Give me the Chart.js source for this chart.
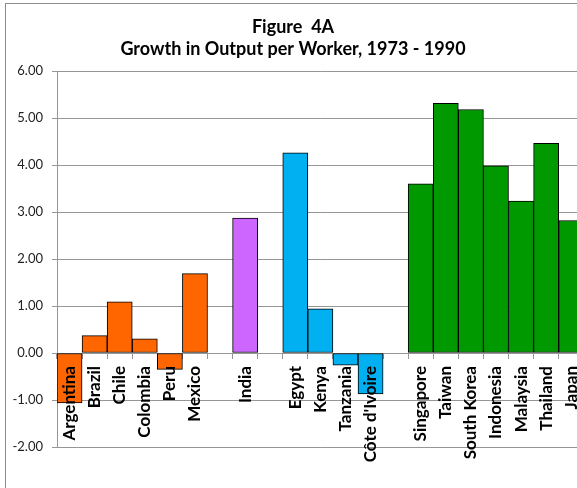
<!DOCTYPE html>
<html>
<head>
<meta charset="utf-8">
<script src="https://cdn.jsdelivr.net/npm/chart.js@4"></script>
<style>
  html, body { margin: 0; padding: 0; background: #fff; overflow: hidden; }
  #frame { position: absolute; left: 5px; top: 3px; width: 640px; height: 520px; border: 1px solid #8c8c8c; }
  #c { position: absolute; left: 0; top: 0; }
</style>
</head>
<body>
<div id="frame"></div>
<canvas id="c" width="600" height="488"></canvas>
<script>
// categories, '' = empty slot between country groups
const countries = ['Argentina','Brazil','Chile','Colombia','Peru','Mexico','',
  'India','',
  'Egypt','Kenya','Tanzania',"Côte d'Ivoire",'',
  'Singapore','Taiwan','South Korea','Indonesia','Malaysia','Thailand','Japan'];

// growth in output per worker, % per year
const growth = [-1.06, 0.37, 1.09, 0.30, -0.35, 1.69, null,
  2.87, null,
  4.26, 0.94, -0.26, -0.87, null,
  3.60, 5.31, 5.18, 3.98, 3.23, 4.46, 2.82];

const groupColor = {latin: '#FF6600', india: '#CC66FF', africa: '#00B0F0', asia: '#009900'};
const groups = ['latin','latin','latin','latin','latin','latin','',
  'india','',
  'africa','africa','africa','africa','',
  'asia','asia','asia','asia','asia','asia','asia'];

const yTicks = [-2, -1, 0, 1, 2, 3, 4, 5, 6];
const titleLines = ['Figure  4A', 'Growth in Output per Worker, 1973 - 1990'];

const gridGray = '#969696';
const font = 'Lato, "Open Sans", sans-serif';

// draws the two title lines, centred like the original
const titlePlugin = {
  id: 'figTitle',
  afterDraw(chart) {
    const ctx = chart.ctx;
    ctx.save();
    ctx.fillStyle = '#000';
    ctx.textAlign = 'center';
    ctx.textBaseline = 'alphabetic';
    ctx.font = 'bold 18px ' + font;
    ctx.fillText(titleLines[0], 293, 33);
    ctx.fillText(titleLines[1], 293, 55);
    ctx.restore();
  }
};

new Chart(document.getElementById('c'), {
  type: 'bar',
  data: {
    labels: countries,
    datasets: [{
      data: growth,
      backgroundColor: groups.map(g => groupColor[g] || 'transparent'),
      borderColor: '#000',
      borderWidth: 1,
      borderSkipped: false,
      barPercentage: 1,
      categoryPercentage: 1
    }]
  },
  options: {
    responsive: false,
    animation: false,
    devicePixelRatio: 1,
    layout: { padding: { left: 0, top: 71, right: 16, bottom: 41 } },
    plugins: { legend: { display: false }, tooltip: { enabled: false }, title: { display: false } },
    scales: {
      x: {
        position: { y: 0 },
        grid: { display: true, drawOnChartArea: false, drawTicks: true, tickLength: 5, color: gridGray, offset: true },
        border: { display: true, color: gridGray },
        ticks: {
          z: 1,
          autoSkip: false, minRotation: 90, maxRotation: 90, padding: 8,
          color: '#000', font: { family: font, size: 17, weight: 'bold' }
        }
      },
      y: {
        min: -2, max: 6,
        afterFit: s => { s.width = 57; },
        afterBuildTicks: s => { s.ticks = yTicks.map(v => ({ value: v })); },
        grid: { color: gridGray, tickLength: 5 },
        border: { display: true, color: gridGray },
        ticks: {
          padding: 9, color: '#222',
          font: { family: font, size: 13 },
          callback: v => v.toFixed(2)
        }
      }
    }
  },
  plugins: [titlePlugin]
});
</script>
</body>
</html>
